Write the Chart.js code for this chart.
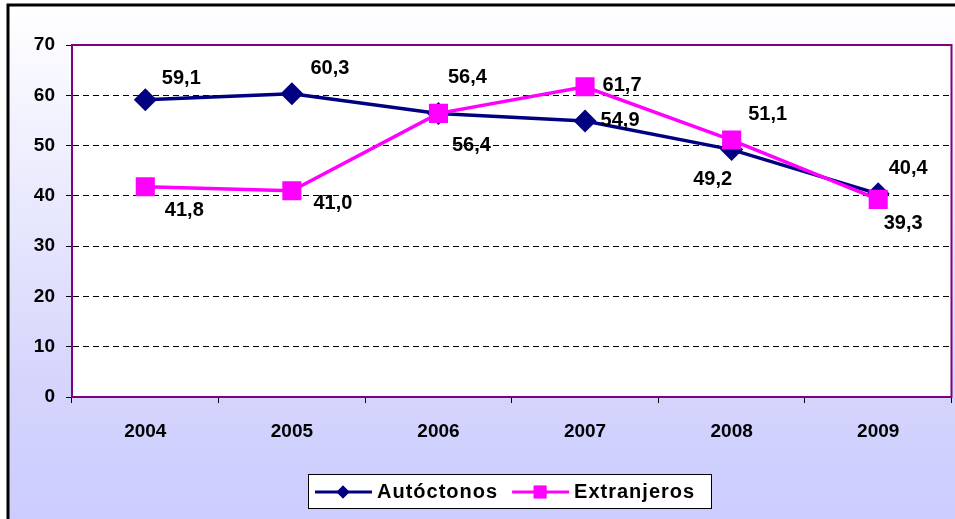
<!DOCTYPE html>
<html>
<head>
<meta charset="utf-8">
<script src="https://cdn.jsdelivr.net/npm/chart.js@4.4.1/dist/chart.umd.min.js"></script>
<style>
  html, body { margin: 0; padding: 0; background: #fff; overflow: hidden; }
  canvas { display: block; }
</style>
</head>
<body>
<canvas id="chart" width="965" height="519"></canvas>
<script>
var years = ['2004', '2005', '2006', '2007', '2008', '2009'];
var autoctonos = [59.1, 60.3, 56.4, 54.9, 49.2, 40.4];
var extranjeros = [41.8, 41.0, 56.4, 61.7, 51.1, 39.3];
var yTicks = [0, 10, 20, 30, 40, 50, 60, 70];

var FONT = '"Liberation Sans", Arial, sans-serif';
var NAVY = '#000080';
var MAGENTA = '#FF00FF';

// where each value label sits relative to its point (dx, dy)
var labelOffsets = [
	[[36, -21], [38, -25], [33, 32], [35, 0], [-19, 30], [30, -25]],
	[[39, 24], [41, 13], [29, -36], [37, -1], [36, -26], [25, 24]]
];

function fmt(v) {
	return v.toFixed(1).replace('.', ',');
}

var frame = {
	id: 'frame',
	beforeDraw: function(chart) {
		var ctx = chart.ctx;
		var a = chart.chartArea;
		ctx.save();
		ctx.fillStyle = '#fff';
		ctx.fillRect(0, 0, chart.width, chart.height);
		var g = ctx.createLinearGradient(0, 5, 0, chart.height);
		g.addColorStop(0, '#FFFFFF');
		g.addColorStop(0.75, '#D4D4FC');
		g.addColorStop(1, '#CCCCFF');
		ctx.fillStyle = g;
		ctx.fillRect(8, 5, chart.width, chart.height);
		ctx.strokeStyle = '#000';
		ctx.lineWidth = 3;
		ctx.strokeRect(8, 5, chart.width + 10, chart.height + 10);
		ctx.fillStyle = '#fff';
		ctx.fillRect(a.left, a.top, a.right - a.left, a.bottom - a.top);
		ctx.restore();
	},
	afterDraw: function(chart) {
		var ctx = chart.ctx;
		var a = chart.chartArea;
		ctx.save();
		ctx.strokeStyle = '#800080';
		ctx.lineWidth = 2;
		ctx.strokeRect(a.left, a.top, a.right - a.left, a.bottom - a.top);

		// legend
		var bx = 308, by = 474, bw = 403, bh = 34;
		ctx.fillStyle = '#fff';
		ctx.fillRect(bx, by, bw, bh);
		ctx.strokeStyle = '#000';
		ctx.lineWidth = 1;
		ctx.strokeRect(bx + 0.5, by + 0.5, bw, bh);
		ctx.font = 'bold 20px ' + FONT;
		ctx.textBaseline = 'middle';
		ctx.letterSpacing = '1px';
		var cy = by + bh / 2 + 1;
		var x = bx + 7;
		chart.data.datasets.forEach(function(ds) {
			ctx.strokeStyle = ds.borderColor;
			ctx.lineWidth = 3;
			ctx.beginPath();
			ctx.moveTo(x, cy);
			ctx.lineTo(x + 57, cy);
			ctx.stroke();
			ctx.fillStyle = ds.borderColor;
			Chart.helpers.drawPoint(ctx, {pointStyle: ds.pointStyle, radius: ds.pointStyle === 'rect' ? 9 : 6.5, borderWidth: 0}, x + 28, cy);
			ctx.fill();
			ctx.fillStyle = '#000';
			ctx.fillText(ds.label, x + 62, cy);
			x += 62 + ctx.measureText(ds.label).width + 14;
		});
		ctx.restore();
	},
	afterDatasetsDraw: function(chart) {
		var ctx = chart.ctx;
		ctx.save();
		ctx.font = 'bold 20px ' + FONT;
		ctx.fillStyle = '#000';
		ctx.textAlign = 'center';
		ctx.textBaseline = 'middle';
		chart.data.datasets.forEach(function(ds, i) {
			var meta = chart.getDatasetMeta(i);
			meta.data.forEach(function(pt, j) {
				var off = labelOffsets[i][j];
				ctx.fillText(fmt(ds.data[j]), pt.x + off[0], pt.y + off[1]);
			});
		});
		ctx.restore();
	}
};

new Chart(document.getElementById('chart'), {
	type: 'line',
	data: {
		labels: years,
		datasets: [{
			label: 'Autóctonos',
			data: autoctonos,
			borderColor: NAVY,
			backgroundColor: NAVY,
			borderWidth: 3.5,
			pointStyle: 'rectRot',
			pointRadius: 11.5,
			pointHoverRadius: 11.5,
			pointBorderWidth: 0,
			order: 1
		}, {
			label: 'Extranjeros',
			data: extranjeros,
			borderColor: MAGENTA,
			backgroundColor: MAGENTA,
			borderWidth: 3.5,
			pointStyle: 'rect',
			pointRadius: 13.5,
			pointHoverRadius: 13.5,
			pointBorderWidth: 0,
			order: 0
		}]
	},
	options: {
		responsive: false,
		animation: false,
		devicePixelRatio: 1,
		layout: {padding: {left: 0, top: 45, right: 0, bottom: 82}},
		plugins: {
			legend: {display: false},
			tooltip: {enabled: false}
		},
		scales: {
			x: {
				offset: true,
				afterFit: function(s) { s.height = 40; },
				grid: {
					offset: true,
					drawOnChartArea: false,
					tickLength: 6,
					tickColor: '#000',
					lineWidth: 1
				},
				border: {display: true, color: '#800080', width: 2},
				ticks: {
					color: '#000',
					padding: 17,
					font: {family: FONT, size: 19, weight: 'bold'}
				}
			},
			y: {
				min: 0,
				max: 70,
				afterFit: function(s) { s.width = 72; },
				afterBuildTicks: function(s) {
					s.ticks = yTicks.map(function(v) { return {value: v}; });
				},
				grid: {
					color: '#000',
					lineWidth: 1,
					tickBorderDash: [],
					tickLength: 6,
					tickColor: '#000'
				},
				border: {display: true, color: '#800080', width: 2, dash: [6, 4]},
				ticks: {
					color: '#000',
					padding: 11,
					font: {family: FONT, size: 19, weight: 'bold'}
				}
			}
		}
	},
	plugins: [frame]
});
</script>
</body>
</html>
